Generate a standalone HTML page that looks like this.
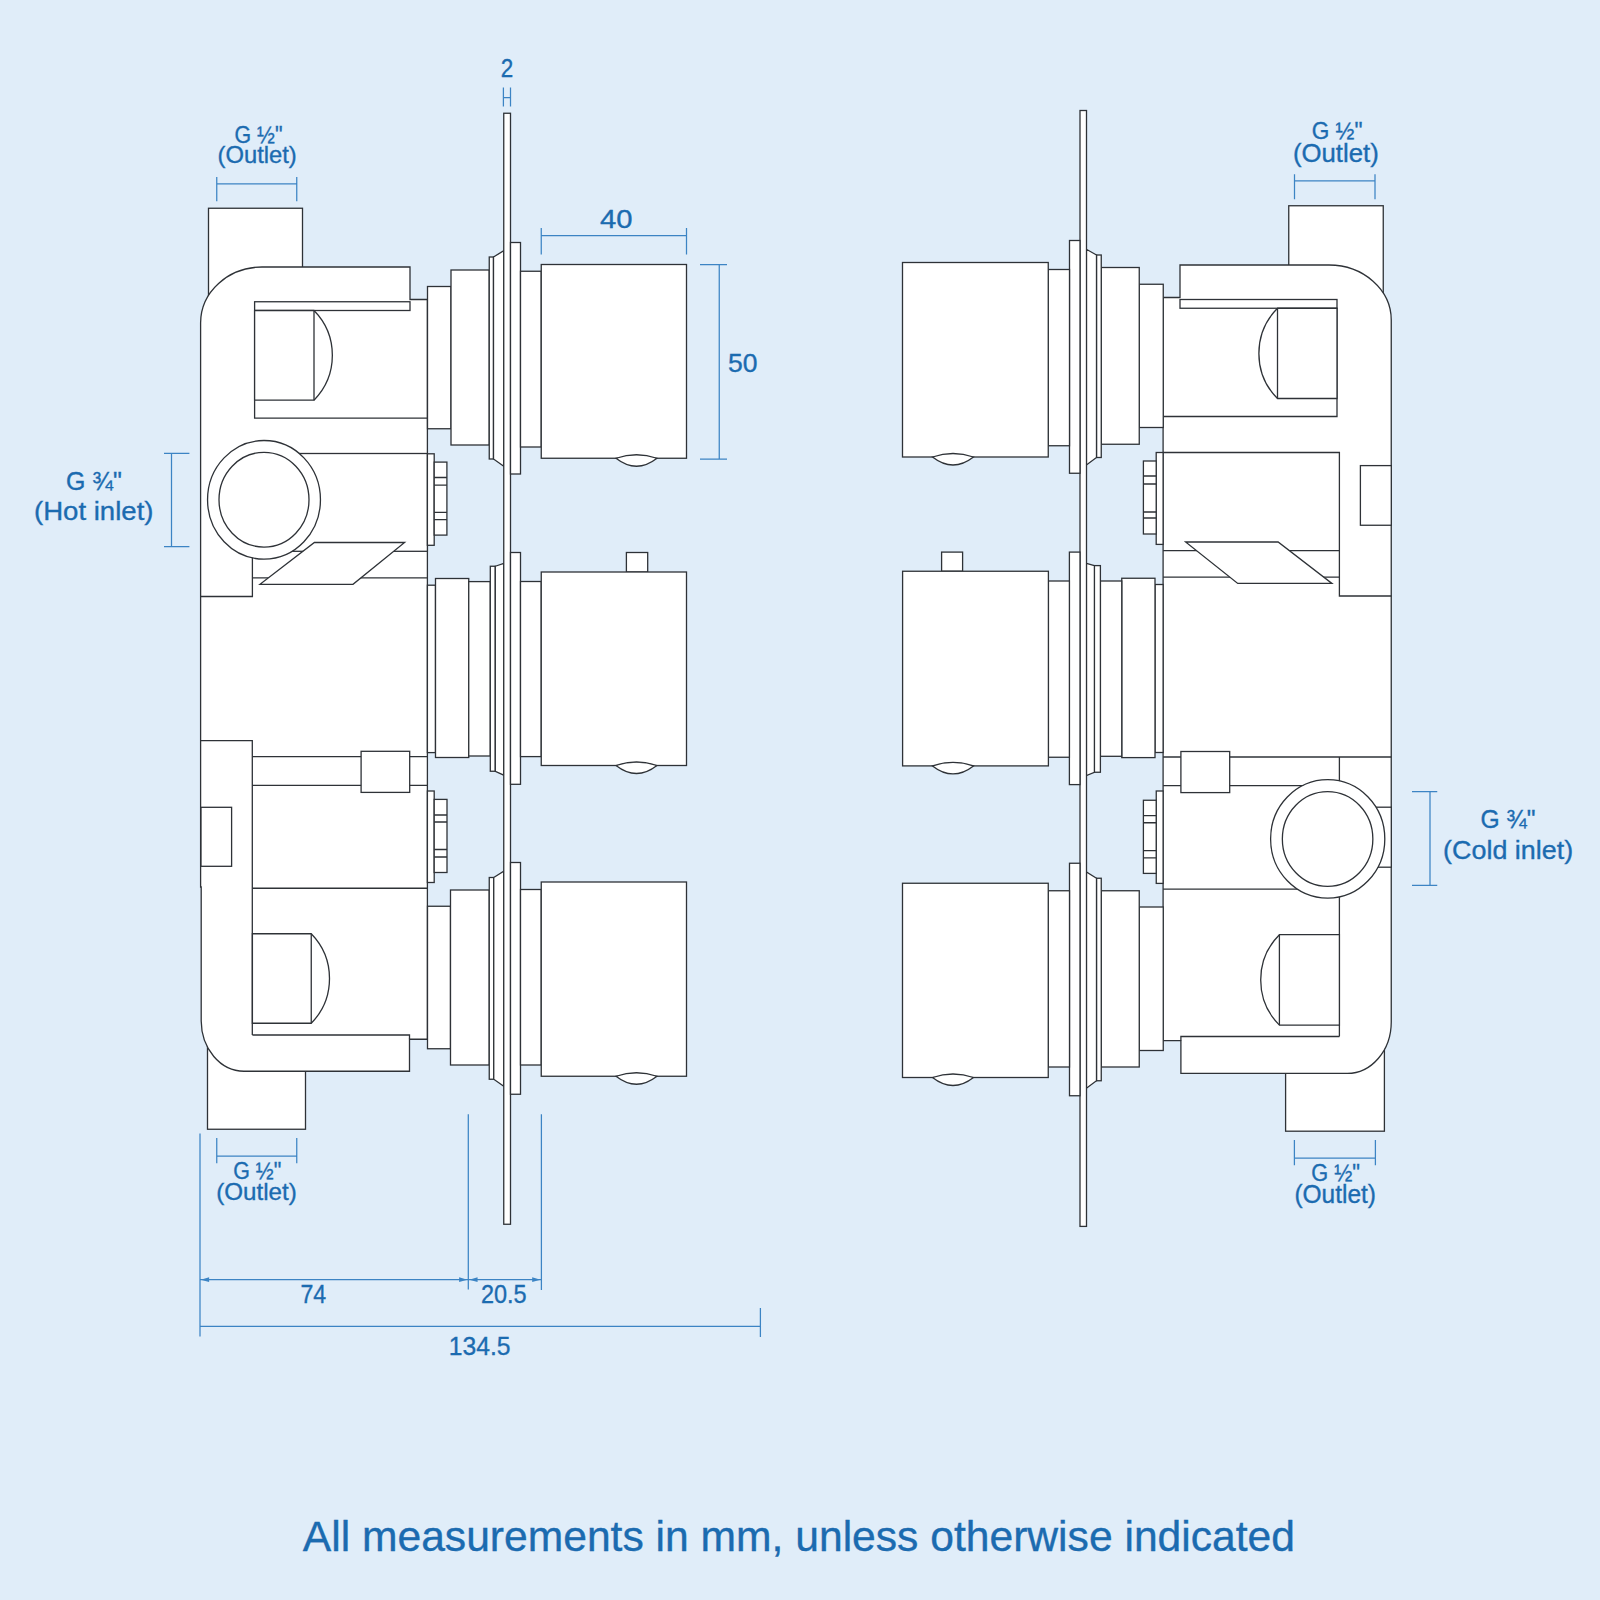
<!DOCTYPE html>
<html><head><meta charset="utf-8"><style>
html,body{margin:0;padding:0;background:#e0edf9;}
svg{display:block;}
text{font-family:"Liberation Sans",sans-serif;fill:#1b6bb0;stroke:#1b6bb0;stroke-width:0.35px;}
</style></head><body>
<svg width="1600" height="1600" viewBox="0 0 1600 1600">
<rect width="1600" height="1600" fill="#e0edf9"/>
<g stroke="#2e3237" stroke-width="1.3" stroke-linejoin="miter">
<rect x="208.50" y="208.25" width="94.00" height="91.75" fill="#fff"/>
<rect x="207.50" y="1000.00" width="98.00" height="129.25" fill="#fff"/>
<path d="M262,267 H410 V299.5 H427.4 V1039.25 H409.5 V1071.25 H244 A43 50.5 0 0 1 201.2,1021 V887 H200.6 V323 A61.5 56 0 0 1 262,267 Z" fill="#fff"/>
<rect x="254.60" y="301.75" width="155.40" height="8.75" fill="#fff"/>
<path d="M254.6,310.5 V418.2 H427.4" fill="none"/>
<path d="M314,310.5 H254.6 V400.2 H314 A64 64 0 0 0 314,310.5 Z" fill="#fff"/>
<path d="M314,310.5 V400.2" fill="none"/>
<rect x="264.00" y="453.50" width="163.40" height="97.80" fill="#fff"/>
<path d="M252.4,540 V596.5 H200.6" fill="none"/>
<path d="M252.4,577.8 H427.4" fill="none"/>
<ellipse cx="264" cy="499.8" rx="56.45" ry="59.3" fill="#fff"/>
<ellipse cx="264" cy="499.7" rx="45" ry="47.4" fill="#fff"/>
<path d="M314.4,542.5 H404.6 L353,584.3 H260 Z" fill="#fff"/>
<rect x="427.40" y="453.80" width="6.80" height="91.50" fill="#fff"/>
<rect x="434.20" y="462.10" width="12.70" height="73.00" fill="#fff"/>
<path d="M434.2,477.5 H446.9 M434.2,485.2 H446.9 M434.2,512.3 H446.9 M434.2,519.6 H446.9" fill="none"/>
<path d="M200.6,740.7 H252.3 V1035" fill="none"/>
<path d="M252.3,756.6 H427.4 M252.3,785.4 H427.4" fill="none"/>
<rect x="361.10" y="751.30" width="48.60" height="41.10" fill="#fff"/>
<rect x="201.00" y="807.30" width="30.60" height="59.00" fill="#fff"/>
<path d="M252.4,888.25 H427.4" fill="none"/>
<rect x="427.40" y="791.00" width="6.80" height="91.50" fill="#fff"/>
<rect x="434.20" y="799.40" width="12.80" height="73.10" fill="#fff"/>
<path d="M434.2,815 H447 M434.2,822 H447 M434.2,849.5 H447 M434.2,857 H447" fill="none"/>
<path d="M252.4,1035 H409.5 V1039.25" fill="none"/>
<path d="M311.25,933.75 H252.4 V1023.25 H311.25 A64 64 0 0 0 311.25,933.75 Z" fill="#fff"/>
<path d="M311.25,933.75 V1023.25" fill="none"/>
<rect x="427.50" y="286.50" width="23.50" height="142.25" fill="#fff"/>
<rect x="451.00" y="270.00" width="38.25" height="175.00" fill="#fff"/>
<rect x="489.25" y="257.00" width="4.25" height="202.00" fill="#fff"/>
<path d="M493.5,257 L503.75,250.75 V466.25 L493.5,459 Z" fill="#fff"/>
<rect x="427.40" y="585.20" width="8.10" height="167.40" fill="#fff"/>
<rect x="435.50" y="578.50" width="33.25" height="179.00" fill="#fff"/>
<rect x="468.75" y="581.60" width="21.55" height="174.40" fill="#fff"/>
<rect x="490.30" y="566.25" width="5.00" height="205.00" fill="#fff"/>
<path d="M495.3,566.25 L503.75,563.5 V775.2 L495.3,771.25 Z" fill="#fff"/>
<rect x="427.50" y="906.25" width="23.00" height="142.50" fill="#fff"/>
<rect x="450.50" y="890.00" width="38.75" height="175.00" fill="#fff"/>
<rect x="489.25" y="877.50" width="4.50" height="201.75" fill="#fff"/>
<path d="M493.75,877.5 L503.75,871.25 V1086.25 L493.75,1079.25 Z" fill="#fff"/>
<rect x="503.75" y="113.25" width="6.75" height="1111.00" fill="#fff"/>
<rect x="510.50" y="242.50" width="10.00" height="231.50" fill="#fff"/>
<rect x="520.50" y="271.25" width="20.75" height="175.75" fill="#fff"/>
<rect x="541.25" y="264.50" width="145.25" height="193.75" fill="#fff"/>
<path d="M616.0,458.25 Q636.5,451.25 657.0,458.25 Q636.5,474.25 616.0,458.25 Z" fill="#fff"/>
<rect x="510.50" y="552.50" width="10.00" height="231.80" fill="#fff"/>
<rect x="520.50" y="581.50" width="20.75" height="175.10" fill="#fff"/>
<rect x="626.40" y="552.50" width="21.30" height="19.50" fill="#fff"/>
<rect x="541.25" y="572.00" width="145.25" height="193.50" fill="#fff"/>
<path d="M616.0,765.5 Q636.5,758.5 657.0,765.5 Q636.5,781.5 616.0,765.5 Z" fill="#fff"/>
<rect x="510.50" y="862.50" width="10.00" height="231.75" fill="#fff"/>
<rect x="520.50" y="889.50" width="20.75" height="175.50" fill="#fff"/>
<rect x="541.25" y="882.00" width="145.25" height="194.25" fill="#fff"/>
<path d="M616.0,1076.25 Q636.5,1069.25 657.0,1076.25 Q636.5,1092.25 616.0,1076.25 Z" fill="#fff"/>
<rect x="1288.75" y="205.75" width="94.50" height="94.25" fill="#fff"/>
<rect x="1285.60" y="1000.00" width="98.80" height="131.20" fill="#fff"/>
<path d="M1180,265 H1329 A62.5 55 0 0 1 1391.25,320 V1021.9 A44 51.5 0 0 1 1346.9,1073.4 H1180.9 V1040.6 H1163.1 V297.5 H1180 Z" fill="#fff"/>
<rect x="1180.00" y="299.50" width="157.00" height="8.75" fill="#fff"/>
<path d="M1337,308.25 V416.5 H1163.1" fill="none"/>
<path d="M1277.5,308.25 H1337 V398.5 H1277.5 A64 64 0 0 1 1277.5,308.25 Z" fill="#fff"/>
<path d="M1277.5,308.25 V398.5" fill="none"/>
<path d="M1163.1,452.5 H1339.4 V596 H1391.3" fill="none"/>
<path d="M1163.1,550.6 H1339.4 M1163.1,577.2 H1339.4" fill="none"/>
<rect x="1360.40" y="465.60" width="30.90" height="59.65" fill="#fff"/>
<path d="M1185.6,542 H1278.1 L1331.9,583.4 H1237.75 Z" fill="#fff"/>
<rect x="1156.20" y="452.50" width="6.90" height="91.90" fill="#fff"/>
<rect x="1143.40" y="461.00" width="12.80" height="73.00" fill="#fff"/>
<path d="M1143.4,476 H1156.2 M1143.4,484 H1156.2 M1143.4,512 H1156.2 M1143.4,518 H1156.2" fill="none"/>
<path d="M1163.1,757 H1391.3" fill="none"/>
<path d="M1163.1,785.6 H1339.4 M1339.4,757 V1036.5" fill="none"/>
<rect x="1180.90" y="751.50" width="48.80" height="41.10" fill="#fff"/>
<rect x="1360.00" y="807.20" width="31.30" height="60.00" fill="#fff"/>
<path d="M1163.1,889.1 H1339.4" fill="none"/>
<ellipse cx="1327.7" cy="838.9" rx="57.1" ry="59.25" fill="#fff"/>
<ellipse cx="1327.6" cy="839" rx="45.25" ry="47.35" fill="#fff"/>
<rect x="1156.25" y="791.00" width="6.85" height="92.40" fill="#fff"/>
<rect x="1143.40" y="800.25" width="12.80" height="73.15" fill="#fff"/>
<path d="M1143.4,815.6 H1156.2 M1143.4,822.75 H1156.2 M1143.4,850.7 H1156.2 M1143.4,857.8 H1156.2" fill="none"/>
<path d="M1279.4,934.7 H1339.4 V1025.1 H1279.4 A64 64 0 0 1 1279.4,934.7 Z" fill="#fff"/>
<path d="M1279.4,934.7 V1025.1" fill="none"/>
<path d="M1180.9,1040.6 V1036.5 H1339.4" fill="none"/>
<rect x="1139.25" y="284.25" width="24.00" height="143.25" fill="#fff"/>
<rect x="1101.25" y="267.50" width="38.00" height="176.75" fill="#fff"/>
<rect x="1096.50" y="255.00" width="4.75" height="202.50" fill="#fff"/>
<path d="M1096.5,255 L1086.4,249.25 V465 L1096.5,457.5 Z" fill="#fff"/>
<rect x="1155.00" y="584.50" width="8.10" height="168.00" fill="#fff"/>
<rect x="1121.75" y="578.25" width="33.25" height="179.35" fill="#fff"/>
<rect x="1100.40" y="581.00" width="21.35" height="175.30" fill="#fff"/>
<rect x="1094.40" y="565.60" width="6.00" height="206.65" fill="#fff"/>
<path d="M1094.4,565.6 L1086.4,563.4 V775.6 L1094.4,772.25 Z" fill="#fff"/>
<rect x="1139.25" y="907.00" width="24.00" height="143.50" fill="#fff"/>
<rect x="1101.25" y="890.75" width="38.00" height="176.25" fill="#fff"/>
<rect x="1096.50" y="878.25" width="4.75" height="202.50" fill="#fff"/>
<path d="M1096.5,878.25 L1086.4,872 V1088.25 L1096.5,1080.75 Z" fill="#fff"/>
<rect x="1080.00" y="110.50" width="6.50" height="1115.90" fill="#fff"/>
<rect x="1069.50" y="240.50" width="10.50" height="232.75" fill="#fff"/>
<rect x="1048.25" y="269.50" width="21.25" height="176.25" fill="#fff"/>
<rect x="902.50" y="262.50" width="145.75" height="194.50" fill="#fff"/>
<path d="M932.5,457 Q953,450 973.5,457 Q953,473 932.5,457 Z" fill="#fff"/>
<rect x="1069.40" y="552.10" width="10.60" height="232.50" fill="#fff"/>
<rect x="1048.40" y="581.00" width="21.00" height="176.25" fill="#fff"/>
<rect x="941.60" y="552.10" width="21.00" height="19.15" fill="#fff"/>
<rect x="902.60" y="571.25" width="145.80" height="194.65" fill="#fff"/>
<path d="M932.5,765.9 Q953,758.9 973.5,765.9 Q953,781.9 932.5,765.9 Z" fill="#fff"/>
<rect x="1069.50" y="863.25" width="10.50" height="232.50" fill="#fff"/>
<rect x="1048.25" y="890.75" width="21.25" height="176.25" fill="#fff"/>
<rect x="902.50" y="883.25" width="145.75" height="194.25" fill="#fff"/>
<path d="M932.5,1077.5 Q953,1070.5 973.5,1077.5 Q953,1093.5 932.5,1077.5 Z" fill="#fff"/>
</g>
<g stroke="#3c84c4" stroke-width="1.25" fill="none">
<path d="M503.4,87.5 V106.5 M510.5,87.5 V106.5 M503.4,97.5 H510.5"/>
<path d="M216.75,177 V201.25 M296.75,177 V201.25 M216.75,183.75 H296.75"/>
<path d="M541.25,228 V254.5 M686.5,228 V254.5 M541.25,235.5 H686.5"/>
<path d="M700,264.5 H727 M700,459 H727 M719.25,264.5 V459"/>
<path d="M164,453.4 H189.4 M164,546.6 H189.4 M171.5,453.4 V546.6"/>
<path d="M216.75,1138 V1163.25 M296.75,1138 V1163.25 M216.75,1156 H296.75"/>
<path d="M200,1133.5 V1336.5 M468.3,1114.25 V1289.6 M541.4,1114.25 V1290"/>
<path d="M200,1279.65 H468.3 M468.3,1279.65 H541.4"/>
<path d="M200,1326.4 H760.4 M760.4,1308 V1337"/>
<path d="M1294.5,174.25 V199.25 M1375,174.25 V199.25 M1294.5,180.75 H1375"/>
<path d="M1412,791.5 H1437.25 M1412,885.25 H1437.25 M1430,791.5 V885.25"/>
<path d="M1294.4,1140 V1165.3 M1375.4,1140 V1165.3 M1294.4,1158.2 H1375.4"/>
</g>
<g fill="#3c84c4" stroke="none">
<path d="M200.8,1279.65 L209.10000000000002,1277.25 L209.10000000000002,1282.0500000000002 Z"/>
<path d="M467.4,1279.65 L459.09999999999997,1277.25 L459.09999999999997,1282.0500000000002 Z"/>
<path d="M469.25,1279.65 L477.55,1277.25 L477.55,1282.0500000000002 Z"/>
<path d="M540.5,1279.65 L532.2,1277.25 L532.2,1282.0500000000002 Z"/>
</g>
<g>
<text x="500.75" y="77.00" font-size="25" textLength="12.50" lengthAdjust="spacingAndGlyphs">2</text>
<text x="234.50" y="142.50" font-size="24" textLength="48.00" lengthAdjust="spacingAndGlyphs">G ½"</text>
<text x="217.50" y="162.50" font-size="24" textLength="79.25" lengthAdjust="spacingAndGlyphs">(Outlet)</text>
<text x="600.00" y="227.50" font-size="25" textLength="32.50" lengthAdjust="spacingAndGlyphs">40</text>
<text x="728.00" y="372.00" font-size="25" textLength="29.50" lengthAdjust="spacingAndGlyphs">50</text>
<text x="66.00" y="490.00" font-size="25" textLength="55.90" lengthAdjust="spacingAndGlyphs">G ¾"</text>
<text x="34.00" y="520.00" font-size="26" textLength="119.50" lengthAdjust="spacingAndGlyphs">(Hot inlet)</text>
<text x="233.25" y="1178.75" font-size="23" textLength="48.00" lengthAdjust="spacingAndGlyphs">G ½"</text>
<text x="216.25" y="1199.50" font-size="24" textLength="80.50" lengthAdjust="spacingAndGlyphs">(Outlet)</text>
<text x="300.50" y="1302.50" font-size="25" textLength="25.75" lengthAdjust="spacingAndGlyphs">74</text>
<text x="480.90" y="1302.75" font-size="25" textLength="45.70" lengthAdjust="spacingAndGlyphs">20.5</text>
<text x="448.75" y="1355.00" font-size="26" textLength="61.75" lengthAdjust="spacingAndGlyphs">134.5</text>
<text x="1311.75" y="138.75" font-size="24" textLength="50.75" lengthAdjust="spacingAndGlyphs">G ½"</text>
<text x="1293.00" y="162.00" font-size="25" textLength="85.75" lengthAdjust="spacingAndGlyphs">(Outlet)</text>
<text x="1480.40" y="827.75" font-size="25" textLength="55.20" lengthAdjust="spacingAndGlyphs">G ¾"</text>
<text x="1443.10" y="859.00" font-size="26" textLength="130.00" lengthAdjust="spacingAndGlyphs">(Cold inlet)</text>
<text x="1311.25" y="1181.25" font-size="23" textLength="48.75" lengthAdjust="spacingAndGlyphs">G ½"</text>
<text x="1294.40" y="1203.00" font-size="25" textLength="81.60" lengthAdjust="spacingAndGlyphs">(Outlet)</text>
<text x="302.75" y="1551.00" font-size="42" textLength="992.25" lengthAdjust="spacingAndGlyphs">All measurements in mm, unless otherwise indicated</text>
</g>
</svg>
</body></html>
